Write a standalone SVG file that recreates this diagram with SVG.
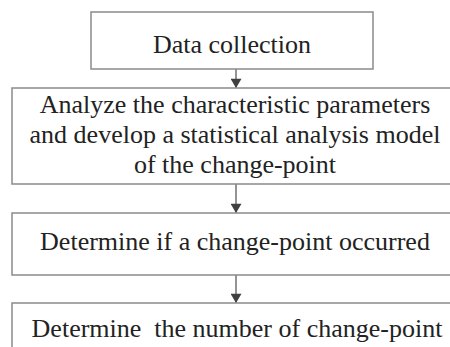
<svg xmlns="http://www.w3.org/2000/svg" width="450" height="347" viewBox="0 0 450 347">
<style>
.box{fill:#fff;stroke:#8a8a8a;stroke-width:1.5}
.t{font-family:"Liberation Serif","Times New Roman",serif;font-size:26px;fill:#222;text-anchor:middle}
.c{stroke:#707070;stroke-width:1.5;fill:none}
</style>
<defs>
<marker id="ah" markerWidth="13" markerHeight="11" refX="11" refY="6.5" orient="auto" markerUnits="userSpaceOnUse" viewBox="0 0 11 13">
<path d="M0,0 L11,6.5 L0,13 z" fill="#404040"/>
</marker>
</defs>
<rect width="450" height="347" fill="#fff"/>
<g id="connectors">
<line class="c" x1="236" y1="69" x2="236" y2="88" marker-end="url(#ah)"/>
<line class="c" x1="236" y1="184" x2="236" y2="213" marker-end="url(#ah)"/>
<line class="c" x1="236" y1="275" x2="236" y2="303" marker-end="url(#ah)"/>
</g>
<g id="n1">
<rect class="box" x="91" y="12" width="282" height="57"/>
<text class="t" x="232" y="53">Data collection</text>
</g>
<g id="n2">
<rect class="box" x="12" y="88" width="520" height="96"/>
<text class="t" x="235" y="113">Analyze the characteristic parameters</text>
<text class="t" x="235" y="143">and develop a statistical analysis model</text>
<text class="t" x="235" y="173">of the change-point</text>
</g>
<g id="n3">
<rect class="box" x="12" y="213" width="520" height="62"/>
<text class="t" x="235" y="250">Determine if a change-point occurred</text>
</g>
<g id="n4">
<rect class="box" x="12" y="303" width="520" height="80"/>
<text class="t" x="237" y="337" xml:space="preserve">Determine  the number of change-point</text>
</g>
</svg>
